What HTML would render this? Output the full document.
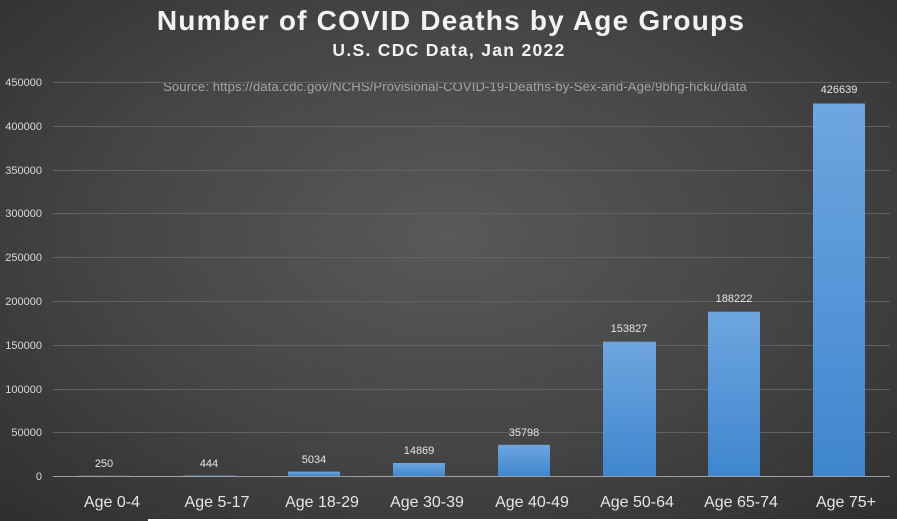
<!DOCTYPE html>
<html><head><style>
body{margin:0}
#c{position:relative;width:897px;height:521px;overflow:hidden;font-family:"Liberation Sans",sans-serif;
background:radial-gradient(ellipse 70% 75% at 50% 45%,#595959 0%,#454545 55%,#303030 100%);}
</style></head><body><div id="c">
<svg width="897" height="521" style="position:absolute;left:0;top:0" font-family="Liberation Sans, sans-serif">
<defs><linearGradient id="b" x1="0" y1="0" x2="0" y2="1"><stop offset="0" stop-color="#6ea6e0"/><stop offset="1" stop-color="#3f86cf"/></linearGradient></defs>
<text x="451" y="30" text-anchor="middle" fill="#f2f2f2" font-size="28" font-weight="bold" letter-spacing="1.2">Number of COVID Deaths by Age Groups</text>
<text x="449" y="56" text-anchor="middle" fill="#f2f2f2" font-size="17.5" font-weight="bold" letter-spacing="1.3">U.S. CDC Data, Jan 2022</text>
<text x="455" y="91" text-anchor="middle" fill="#a6a6a6" font-size="13" letter-spacing="0.15">Source: https://data.cdc.gov/NCHS/Provisional-COVID-19-Deaths-by-Sex-and-Age/9bhg-hcku/data</text>
<g stroke="#626262" stroke-width="1">
<line x1="53" x2="890" y1="82.5" y2="82.5"/><line x1="53" x2="890" y1="126.5" y2="126.5"/>
<line x1="53" x2="890" y1="170.5" y2="170.5"/><line x1="53" x2="890" y1="213.5" y2="213.5"/>
<line x1="53" x2="890" y1="257.5" y2="257.5"/><line x1="53" x2="890" y1="301.5" y2="301.5"/>
<line x1="53" x2="890" y1="345.5" y2="345.5"/><line x1="53" x2="890" y1="389.5" y2="389.5"/>
<line x1="53" x2="890" y1="432.5" y2="432.5"/>
</g>
<g fill="#d9d9d9" font-size="11" text-anchor="end">
<text x="42" y="86">450000</text><text x="42" y="130">400000</text><text x="42" y="174">350000</text>
<text x="42" y="217">300000</text><text x="42" y="261">250000</text><text x="42" y="305">200000</text>
<text x="42" y="349">150000</text><text x="42" y="393">100000</text><text x="42" y="436">50000</text>
<text x="42" y="480">0</text>
</g>
<g fill="url(#b)">
<rect x="78" y="475.8" width="52" height="0.4"/>
<rect x="183" y="475.6" width="52" height="0.6"/>
<rect x="288" y="471.6" width="52" height="4.4"/>
<rect x="393" y="463" width="52" height="13"/>
<rect x="498" y="444.8" width="52" height="31.2"/>
<rect x="603" y="341.7" width="53" height="134.3"/>
<rect x="708" y="311.7" width="52" height="164.3"/>
<rect x="813" y="103.5" width="52" height="372.5"/>
</g>
<line x1="53" x2="890" y1="476.5" y2="476.5" stroke="#a0a0a0"/>
<g fill="#e6e6e6" font-size="11" text-anchor="middle">
<text x="104" y="467">250</text><text x="209" y="467">444</text><text x="314" y="463">5034</text>
<text x="419" y="454">14869</text><text x="524" y="436">35798</text><text x="629" y="332">153827</text>
<text x="734" y="302">188222</text><text x="839" y="93">426639</text>
</g>
<g fill="#e6e6e6" font-size="16" text-anchor="middle">
<text x="112" y="507">Age 0-4</text><text x="217" y="507">Age 5-17</text><text x="322" y="507">Age 18-29</text>
<text x="427" y="507">Age 30-39</text><text x="532" y="507">Age 40-49</text><text x="637" y="507">Age 50-64</text>
<text x="741" y="507">Age 65-74</text><text x="846" y="507">Age 75+</text>
</g>
<rect x="148" y="519" width="749" height="2" fill="#ffffff"/>
</svg>
</div></body></html>
